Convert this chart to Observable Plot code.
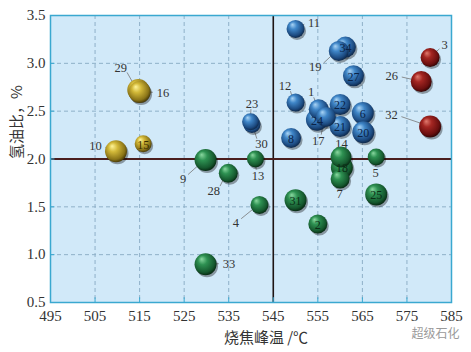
<!DOCTYPE html>
<html><head><meta charset="utf-8">
<script src="https://cdn.jsdelivr.net/npm/d3@7"></script>
<script src="https://cdn.jsdelivr.net/npm/@observablehq/plot@0.6"></script>
<style>body{margin:0;background:#fff;}</style>
</head><body><div id="chart"></div>
<script>
// Sample ids (drawing order: back to front)
const ids    = [3, 26, 32, 11, 19, 34, 27, 12, 1, 17, 24, 22, 6, 21, 20, 8, 30, 23, 14, 7, 18, 5, 13, 25, 31, 2, 4, 9, 28, 33, 29, 16, 15, 10];
// 烧焦峰温 /℃
const temps  = [580.2, 578.2, 580.2, 550.0, 559.7, 561.2, 563.0, 550.0, 555.2, 556.8, 554.8, 560.0, 565.1, 560.0, 565.2, 549.0, 540.2, 539.9, 560.2, 560.0, 560.4, 568.1, 541.0, 568.1, 550.0, 555.0, 541.9, 529.8, 534.9, 529.8, 514.7, 515.0, 515.8, 509.7];
// 氢油比，%
const ratios = [3.06, 2.81, 2.34, 3.36, 3.13, 3.17, 2.87, 2.59, 2.52, 2.44, 2.41, 2.57, 2.48, 2.34, 2.28, 2.22, 2.36, 2.39, 2.02, 1.79, 1.91, 2.02, 2.00, 1.63, 1.57, 1.32, 1.52, 1.99, 1.85, 0.90, 2.72, 2.70, 2.16, 2.08];
// bubble size
const sizes  = [9.5, 10.5, 11, 9, 10, 10.5, 10.5, 9, 10, 10, 11, 10.5, 11, 10.5, 11, 10, 8.5, 8.5, 10.5, 9.5, 11, 8.5, 8.5, 11, 11, 9.5, 9, 11, 9.5, 11, 11, 11, 8.5, 11];
// group
const groups = ["red","red","red","blue","blue","blue","blue","blue","blue","blue","blue","blue","blue","blue","blue","blue","blue","blue","green","green","green","green","green","green","green","green","green","green","green","green","yellow","yellow","yellow","yellow"];
// numbers drawn inside their bubble
const insideLabels = [2, 6, 8, 15, 18, 20, 21, 22, 24, 25, 27, 31, 34];
// label offsets (px) for labels drawn outside with a leader line
const labelOffsets = {1:[-7,-17], 3:[15,-12], 4:[-23,18], 5:[0,16], 7:[0,15], 9:[-22,19], 10:[-20,-5], 11:[19,-6], 12:[-10,-16], 13:[3,17], 14:[1,-13], 16:[24,1], 17:[-7,24], 19:[-23,16], 23:[2,-18], 26:[-29,-5], 28:[-14,18], 29:[-17,-22], 30:[10,20], 32:[-38,-11], 33:[24,0]};
const xTicks = [495, 505, 515, 525, 535, 545, 555, 565, 575, 585];
const yTicks = [0.5, 1.0, 1.5, 2.0, 2.5, 3.0, 3.5];
const xGrid = [505, 515, 525, 535, 555, 565, 575];
const yGrid = [1.0, 1.5, 2.5, 3.0];
const xRef = 545, yRef = 2.0;
const xLabel = "烧焦峰温 /℃";
const yLabel = "氢油比，%";
const watermark = "超级石化";

const palette = {
  blue:   ["#a9d4f5", "#3f86c8", "#1c4a80", "#0c2444"],
  green:  ["#8ad8a0", "#2e9152", "#15582e", "#062410"],
  red:    ["#e07a6e", "#a42622", "#6a0f0f", "#2a0404"],
  yellow: ["#fff59a", "#d2b838", "#8a7418", "#3e3206"]
};
const insideColor = {blue:"#0b2347", green:"#0a2e16", red:"#2a0404", yellow:"#3a2e00"};

const data = ids.map((id, i) => ({id, x: temps[i], y: ratios[i], r: sizes[i], g: groups[i]}));
const inside = data.filter(d => insideLabels.includes(d.id));
const outside = data.filter(d => labelOffsets[d.id]);

const serif = "Liberation Serif";
const cjk = "Noto Sans CJK SC";

function defsMark() {
  const g = d3.create("svg:g");
  const defs = g.append("defs");
  for (const [k, c] of Object.entries(palette)) {
    const rg = defs.append("radialGradient").attr("id", "g-" + k)
      .attr("cx", "45%").attr("cy", "42%").attr("r", "60%").attr("fx", "32%").attr("fy", "26%");
    rg.append("stop").attr("offset", "0%").attr("stop-color", c[0]);
    rg.append("stop").attr("offset", "35%").attr("stop-color", c[1]);
    rg.append("stop").attr("offset", "80%").attr("stop-color", c[2]);
    rg.append("stop").attr("offset", "100%").attr("stop-color", c[3]);
  }
  return g.node();
}

function leaders(index, scales) {
  const g = d3.create("svg:g");
  for (const d of outside) {
    const [ox, oy] = labelOffsets[d.id];
    const cx = scales.x(d.x), cy = scales.y(d.y);
    const len = Math.hypot(ox, oy);
    const ux = ox / len, uy = oy / len;
    const sx = cx + ux * d.r * 0.55, sy = cy + uy * d.r * 0.55;
    const ew = String(d.id).length * 3.6 + 3;
    const ex = cx + ox - ux * ew, ey = cy + oy - uy * 6;
    g.append("line").attr("x1", sx).attr("y1", sy).attr("x2", ex).attr("y2", ey)
      .attr("stroke", "#777").attr("stroke-width", 0.8);
    g.append("text").attr("x", cx + ox).attr("y", cy + oy).attr("dy", "0.35em")
      .attr("text-anchor", "middle").attr("font-family", serif).attr("font-size", 12.5)
      .attr("fill", "#333").text(d.id);
  }
  return g.node();
}

const chart = Plot.plot({
  width: 471,
  height: 352,
  marginLeft: 50,
  marginRight: 20,
  marginTop: 15,
  marginBottom: 50,
  style: {fontFamily: serif, fontSize: "15px", color: "#333", background: "#fff"},
  x: {domain: [495, 585]},
  y: {domain: [0.5, 3.5]},
  r: {type: "identity"},
  color: {type: "identity"},
  marks: [
    Plot.frame({fill: "#d1e9f9"}),
    defsMark,
    Plot.ruleX(xGrid, {stroke: "#8fb0c8", strokeDasharray: "4,3", strokeWidth: 1}),
    Plot.ruleY(yGrid, {stroke: "#8fb0c8", strokeDasharray: "4,3", strokeWidth: 1}),
    Plot.ruleX([xRef], {stroke: "#1e1414", strokeWidth: 1.6}),
    Plot.ruleY([yRef], {stroke: "#4a1e1e", strokeWidth: 2}),
    Plot.ruleX(xTicks, {y1: 0.5, y2: 0.55, stroke: "#3aa8d0"}),
    Plot.ruleY(yTicks, {x1: 495, x2: 496, stroke: "#3aa8d0"}),
    Plot.frame({stroke: "#3aa8d0", strokeWidth: 1.5}),
    Plot.axisX({ticks: xTicks, tickSize: 0, tickPadding: 8, tickFormat: d => String(d), fontSize: 15, fontFamily: serif, fill: "#333", label: null}),
    Plot.axisY({ticks: yTicks, tickSize: 0, tickPadding: 5, tickFormat: d3.format(".1f"), fontSize: 15, fontFamily: serif, fill: "#333", label: null}),
    Plot.text([xLabel], {frameAnchor: "bottom", dx: 15, dy: 40, fontSize: 15, fill: "#333", fontFamily: cjk}),
    Plot.text([yLabel], {frameAnchor: "left", dx: -33, rotate: -90, fontSize: 15, fill: "#333", fontFamily: cjk}),
    Plot.text([watermark], {frameAnchor: "bottom-right", dx: 8, dy: 35, textAnchor: "end", fontSize: 12, fill: "#9a9a9a", fontFamily: cjk}),
    leaders,
    Plot.dot(data, {x: "x", y: "y", r: "r", fill: "#000", fillOpacity: 0.35, dx: 1.5, dy: 2}),
    Plot.dot(data, {x: "x", y: "y", r: "r", fill: d => `url(#g-${d.g})`}),
    Plot.text(inside, {x: "x", y: "y", text: d => String(d.id), fontSize: 12, fontFamily: serif, fill: d => insideColor[d.g], dy: 1})
  ]
});
document.getElementById("chart").appendChild(chart);
</script>
</body></html>
